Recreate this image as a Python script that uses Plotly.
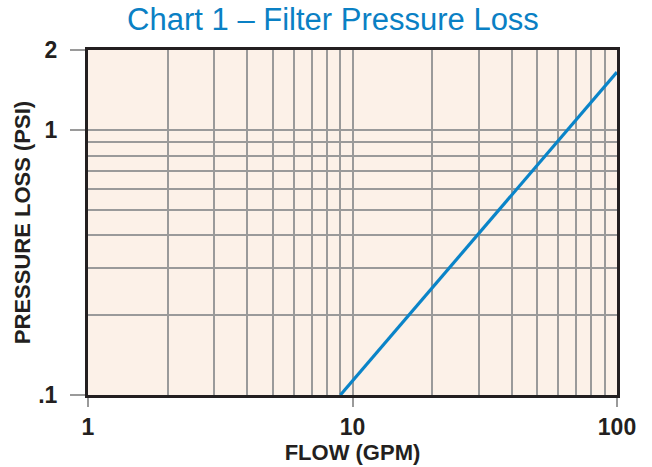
import plotly.graph_objects as go

flow_gpm = [9, 100]
pressure_loss_psi = [0.1, 1.65]

x_major = [1, 10, 100]
x_major_text = ["1", "10", "100"]
x_minor = [2, 3, 4, 5, 6, 7, 8, 9, 20, 30, 40, 50, 60, 70, 80, 90]
y_major = [0.1, 1, 2]
y_major_text = [".1", "1", "2"]
y_minor = [0.2, 0.3, 0.4, 0.5, 0.6, 0.7, 0.8, 0.9]

grid_col = "#9a9a9a"
dark = "#231f20"
blue = "#0a84c8"
FONT = "Liberation Sans, Arial, sans-serif"

fig = go.Figure()
fig.add_trace(go.Scatter(x=flow_gpm, y=pressure_loss_psi, mode="lines",
                         line=dict(color=blue, width=3.2), showlegend=False,
                         hoverinfo="skip"))

fig.update_layout(
    width=652, height=467,
    margin=dict(l=88, r=35, t=50, b=72),
    paper_bgcolor="white",
    plot_bgcolor="#fcf1e8",
    font=dict(family=FONT, color=dark),
    title=dict(text="Chart 1 – Filter Pressure Loss",
               font=dict(size=31, color="#0a80c4", family=FONT),
               x=333/652, xanchor="center", xref="container",
               y=1 - 19/467, yanchor="middle", yref="container"),
)

fig.update_xaxes(
    type="log", range=[0, 2],
    tickmode="array", tickvals=x_major, ticktext=x_major_text,
    tickfont=dict(size=23, family=FONT, color=dark, weight="bold"),
    ticks="outside", ticklen=9, tickcolor=grid_col, tickwidth=1.5,
    showgrid=True, gridcolor=grid_col, gridwidth=1.5,
    minor=dict(tickmode="array", tickvals=x_minor, showgrid=True, gridcolor=grid_col,
               gridwidth=1.5, ticks=""),
    showline=True, linewidth=3, linecolor=dark, mirror=True,
    zeroline=False,
    title=dict(text="<b>FLOW (GPM)</b>", font=dict(size=22, color=dark), standoff=0),
)

fig.update_yaxes(
    type="log", range=[-1, 0.30103],
    tickmode="array", tickvals=y_major, ticktext=y_major_text,
    tickfont=dict(size=23, family=FONT, color=dark, weight="bold"),
    ticks="outside", ticklen=15, tickcolor=grid_col, tickwidth=1.5,
    ticklabelstandoff=8,
    showgrid=True, gridcolor=grid_col, gridwidth=1.5,
    minor=dict(tickmode="array", tickvals=y_minor, showgrid=True, gridcolor=grid_col,
               gridwidth=1.5, ticks=""),
    showline=True, linewidth=3, linecolor=dark, mirror=True,
    zeroline=False,
    title=dict(text="<b>PRESSURE LOSS (PSI)</b>", font=dict(size=22, color=dark), standoff=2),
)

fig.write_html("out.html", config={"displayModeBar": False},
               post_script="document.body.style.margin='0';")
